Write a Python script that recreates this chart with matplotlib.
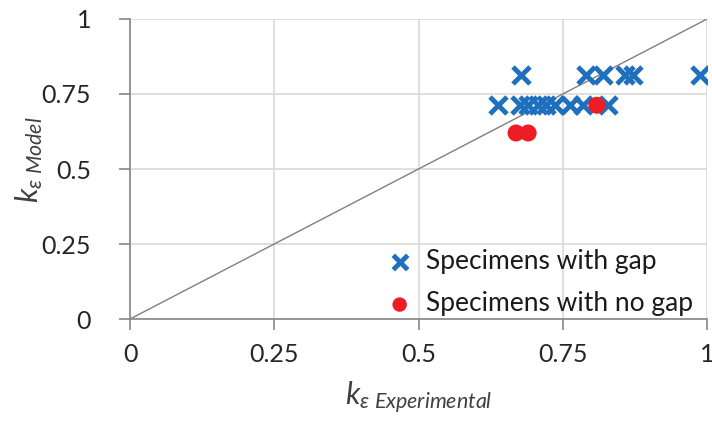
import matplotlib
matplotlib.use('Agg')
import matplotlib.pyplot as plt

plt.rcParams['font.family'] = ['Lato', 'DejaVu Sans']
plt.rcParams['mathtext.fontset'] = 'custom'
plt.rcParams['mathtext.it'] = 'Lato:italic'
plt.rcParams['mathtext.rm'] = 'Lato'

# specimens with gap
gap_x = [0.678, 0.790, 0.820, 0.858, 0.872, 0.988,
         0.638, 0.676, 0.690, 0.707, 0.721, 0.737, 0.763, 0.785, 0.828]
gap_y = [0.8125, 0.8125, 0.8125, 0.8125, 0.8125, 0.8125,
         0.7125, 0.7125, 0.7125, 0.7125, 0.7125, 0.7125, 0.7125, 0.7125, 0.7125]

# specimens with no gap
nogap_x = [0.669, 0.690, 0.809]
nogap_y = [0.62, 0.62, 0.7125]

ticks = [0, 0.25, 0.5, 0.75, 1]
tick_labels = ['0', '0.25', '0.5', '0.75', '1']

fig = plt.figure(figsize=(7.12, 4.25), dpi=100)
ax = fig.add_axes([0.1826, 0.2494, 0.8104, 0.7059])

ax.plot([0, 1], [0, 1], color='#808080', linewidth=1.0, zorder=2)
ax.scatter(gap_x, gap_y, marker='x', s=150, linewidths=3.5, color='#1f6fbf',
           label='Specimens with gap', zorder=3)
ax.scatter(nogap_x, nogap_y, marker='o', s=150, color='#ee1c25', edgecolors='none',
           label='Specimens with no gap', zorder=4)

ax.set_xlim(0, 1)
ax.set_ylim(0, 1)
ax.set_xticks(ticks)
ax.set_xticklabels(tick_labels)
ax.set_yticks(ticks)
ax.set_yticklabels(tick_labels)
ax.grid(True, color='#d9d9d9', linewidth=1.2)
ax.set_axisbelow(True)

for s in ['top', 'right']:
    ax.spines[s].set_visible(False)
for s in ['left', 'bottom']:
    ax.spines[s].set_color('#868686')
    ax.spines[s].set_linewidth(1.2)
ax.tick_params(axis='both', direction='out', length=8, width=1.2, color='#868686',
               labelsize=18, labelcolor='#262626')
ax.tick_params(axis='y', pad=20)
ax.tick_params(axis='x', pad=9)

ax.set_xlabel(r'$k_{\varepsilon\ Experimental}$', fontsize=22, color='#404040', labelpad=10)
ax.set_ylabel(r'$k_{\varepsilon\ Model}$', fontsize=22, color='#404040')
ax.yaxis.set_label_coords(-0.147, 0.53)

ax.legend(loc='lower left', bbox_to_anchor=(0.385, -0.062), frameon=False, fontsize=19,
          handletextpad=0.0, labelspacing=0.68, borderpad=0.3, scatterpoints=1,
          markerscale=0.85, labelcolor='#1a1a1a')

fig.savefig('out.png', dpi=100)
